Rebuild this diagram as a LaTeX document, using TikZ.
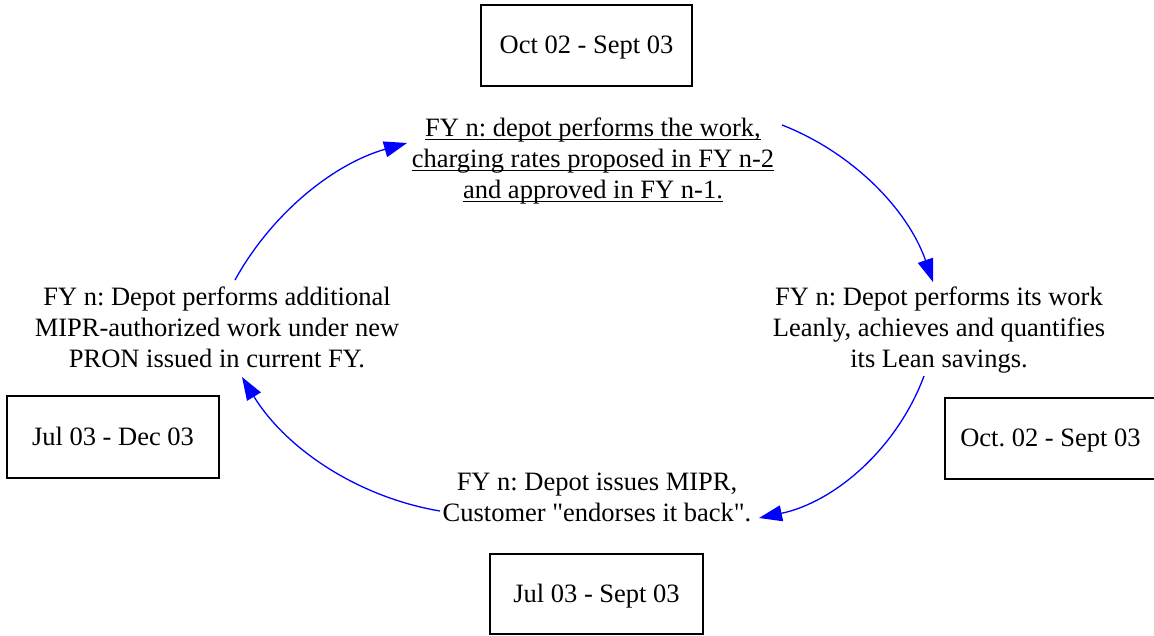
\documentclass[tikz,border=0pt]{standalone}
\usepackage{fontspec}
\setmainfont{Liberation Serif}[Ligatures=TeXOff]
\usetikzlibrary{arrows.meta}
\newcommand\dgfont{\fontsize{26.5}{31}\selectfont\frenchspacing}
\newcommand\ulx[1]{\setbox0=\hbox{#1}\rlap{\rule[-4pt]{\wd0}{1.3pt}}\box0}
\tikzset{
  datebox/.style={draw=black, line width=1.2pt, inner sep=0pt, font=\dgfont,
    text height=18pt, text depth=2pt},
  stage/.style={align=center, inner sep=0pt, font=\dgfont},
  flow/.style={draw=blue, line width=1.3pt, -{Triangle[length=23pt,width=16pt]}}
}
\begin{document}
\begin{tikzpicture}[x=1pt,y=-1pt]
\useasboundingbox (0,0) rectangle (1154,635);
% date boxes
\node[datebox, minimum width=211pt, minimum height=81pt] (dtop) at (586.5,45.5) {Oct 02 - Sept 03};
\node[datebox, minimum width=212pt, minimum height=82pt] (dleft) at (113,437) {Jul 03 - Dec 03};
\node[datebox, minimum width=211pt, minimum height=81pt] (dright) at (1050.5,438.5) {Oct. 02 - Sept 03};
\node[datebox, minimum width=213pt, minimum height=80pt] (dbottom) at (596.5,594) {Jul 03 - Sept 03};
% stage texts
\node[stage] (t) at (593,160.8) {\strut\ulx{FY n: depot performs the work,}\\
  \strut\ulx{charging rates proposed in FY n-2}\\
  \strut\ulx{and approved in FY n-1.}};
\node[stage] (r) at (939,329.8) {\strut FY n: Depot performs its work\\
  \strut Leanly, achieves and quantifies\\
  \strut its Lean savings.};
\node[stage] (b) at (597,499.3) {\strut FY n: Depot issues MIPR,\\
  \strut Customer "endorses it back".};
\node[stage] (l) at (217,329.8) {\strut FY n: Depot performs additional\\
  \strut MIPR-authorized work under new\\
  \strut PRON issued in current FY.};
% cycle arrows
\draw[flow] ([shift={(189,-35.8)}]t.center) .. controls +(71,27.7) and +(-24.9,-72) .. ([shift={(-6,-47.8)}]r.center);
\draw[flow] ([shift={(-15,46.2)}]r.center) .. controls +(-26.9,72.4) and +(75.6,-15.8) .. ([shift={(162,18.7)}]b.center);
\draw[flow] ([shift={(-157,11.7)}]b.center) .. controls +(-82.4,-13.9) and +(43.6,71.4) .. ([shift={(25,47.2)}]l.center);
\draw[flow] ([shift={(18,-49.8)}]l.center) .. controls +(36.9,-66.8) and +(-73.4,20.9) .. ([shift={(-186,-17.8)}]t.center);
\end{tikzpicture}
\end{document}
